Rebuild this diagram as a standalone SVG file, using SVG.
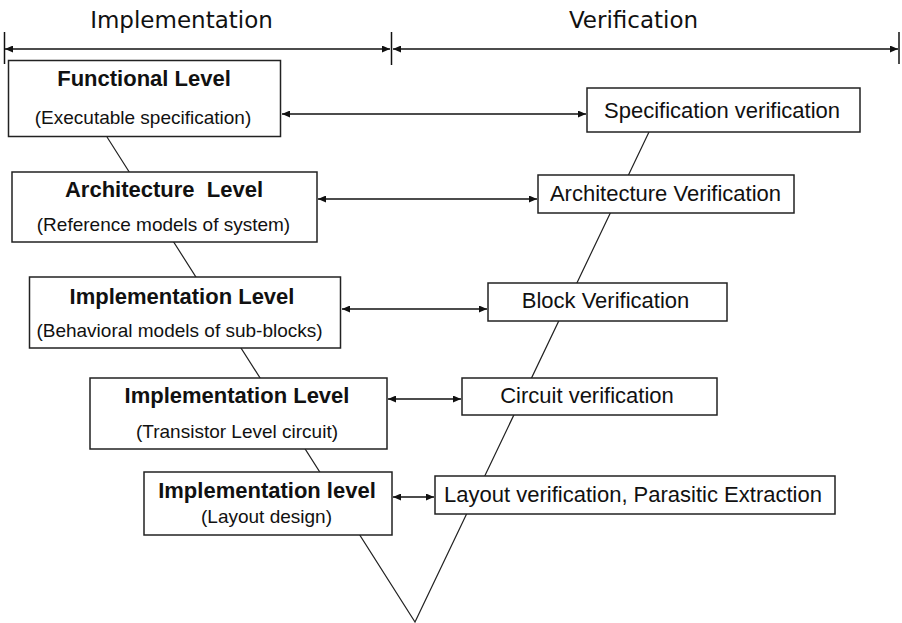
<svg xmlns="http://www.w3.org/2000/svg" width="902" height="623" viewBox="0 0 902 623">
  <defs>
    <marker id="ah" viewBox="0 0 8 7" refX="8" refY="3.5" markerWidth="8" markerHeight="7" markerUnits="userSpaceOnUse" orient="auto-start-reverse">
      <path d="M0,0 L8,3.5 L0,7 z" fill="#111"/>
    </marker>
    <style>
      .box { fill: #fff; stroke: #222; stroke-width: 1.5; }
      .t { font-family: "Liberation Sans", Arial, sans-serif; fill: #111; text-anchor: middle; }
      .title { font-family: "DejaVu Sans", "Liberation Sans", sans-serif; font-size: 23px; }
      .bold { font-size: 22px; font-weight: bold; white-space: pre; }
      .sub { font-size: 19px; }
      .lab { font-size: 22px; }
      .conn { stroke: #111; stroke-width: 1.5; fill: none; marker-start: url(#ah); marker-end: url(#ah); }
      .dim { stroke: #111; stroke-width: 1.5; fill: none; }
      .vee { stroke: #222; stroke-width: 1.2; fill: none; }
    </style>
  </defs>
  <rect width="902" height="623" fill="#fff"/>

  <g id="headers">
    <text class="t title" x="181.5" y="28">Implementation</text>
    <text class="t title" x="633.5" y="28">Verification</text>
    <line class="dim" x1="4.5" y1="32" x2="4.5" y2="64"/>
    <line class="dim" x1="391.5" y1="32" x2="391.5" y2="65"/>
    <line class="dim" x1="899" y1="32" x2="899" y2="64"/>
    <line class="dim" x1="5" y1="49" x2="390" y2="49" marker-start="url(#ah)" marker-end="url(#ah)"/>
    <line class="dim" x1="393" y1="49" x2="898" y2="49" marker-start="url(#ah)" marker-end="url(#ah)"/>
  </g>

  <g id="vee">
    <polyline class="vee" points="107,137 415,622 649,132"/>
  </g>

  <g id="connectors">
    <line class="conn" x1="282" y1="114" x2="586" y2="114"/>
    <line class="conn" x1="318" y1="199" x2="537" y2="199"/>
    <line class="conn" x1="342" y1="309" x2="487" y2="309"/>
    <line class="conn" x1="388" y1="399" x2="461" y2="399"/>
    <line class="conn" x1="393" y1="497" x2="434" y2="497"/>
  </g>

  <g id="functional-level">
    <rect class="box" x="8.5" y="60.5" width="272" height="76"/>
    <text class="t bold" x="144" y="86">Functional Level</text>
    <text class="t sub" x="143" y="124">(Executable specification)</text>
  </g>
  <g id="architecture-level">
    <rect class="box" x="12" y="172" width="305" height="70"/>
    <text class="t bold" x="164" y="197">Architecture  Level</text>
    <text class="t sub" x="163.5" y="231">(Reference models of system)</text>
  </g>
  <g id="implementation-behavioral">
    <rect class="box" x="29.5" y="277" width="311" height="71"/>
    <text class="t bold" x="182" y="304">Implementation Level</text>
    <text class="t sub" x="179.5" y="337">(Behavioral models of sub-blocks)</text>
  </g>
  <g id="implementation-transistor">
    <rect class="box" x="90" y="378" width="297" height="71"/>
    <text class="t bold" x="237" y="403">Implementation Level</text>
    <text class="t sub" x="237" y="438">(Transistor Level circuit)</text>
  </g>
  <g id="implementation-layout">
    <rect class="box" x="144" y="472" width="248" height="63"/>
    <text class="t bold" x="267" y="498">Implementation level</text>
    <text class="t sub" x="266.5" y="523">(Layout design)</text>
  </g>

  <g id="spec-verification">
    <rect class="box" x="587" y="88" width="273" height="44"/>
    <text class="t lab" x="722" y="118">Specification verification</text>
  </g>
  <g id="arch-verification">
    <rect class="box" x="538" y="175" width="256" height="38"/>
    <text class="t lab" x="665.5" y="201">Architecture Verification</text>
  </g>
  <g id="block-verification">
    <rect class="box" x="488" y="283" width="239" height="38"/>
    <text class="t lab" x="605.5" y="308">Block Verification</text>
  </g>
  <g id="circuit-verification">
    <rect class="box" x="462" y="378" width="255" height="37"/>
    <text class="t lab" x="587" y="403">Circuit verification</text>
  </g>
  <g id="layout-verification">
    <rect class="box" x="435" y="476" width="400" height="38"/>
    <text class="t lab" x="633" y="502">Layout verification, Parasitic Extraction</text>
  </g>
</svg>
